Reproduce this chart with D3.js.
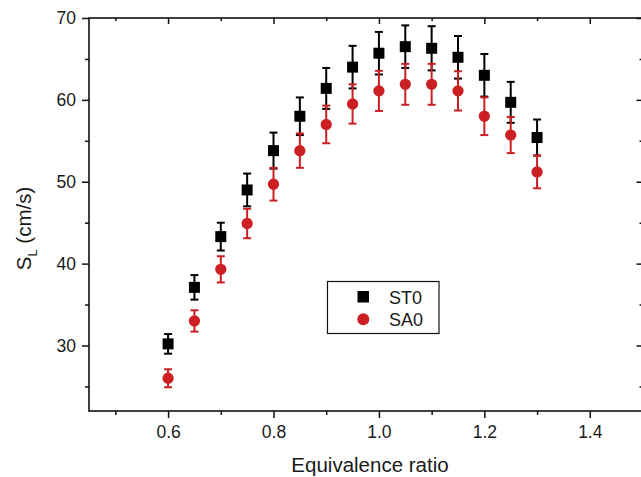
<!DOCTYPE html>
<html>
<head>
<meta charset="utf-8">
<script src="https://cdn.jsdelivr.net/npm/d3@7"></script>
<style>
  body { margin: 0; background: #fff; }
  text { font-family: "Liberation Sans", Arial, sans-serif; fill: #1a1a1a; }
</style>
</head>
<body>
<svg id="chart" width="641" height="477"></svg>
<script>
// equivalence ratio
const phi = [0.6, 0.65, 0.7, 0.75, 0.8, 0.85, 0.9, 0.95, 1.0, 1.05, 1.1, 1.15, 1.2, 1.25, 1.3]
// laminar burning velocity, cm/s
const st0 = [30.2, 37.1, 43.3, 49.0, 53.8, 58.0, 61.4, 64.0, 65.7, 66.5, 66.3, 65.2, 63.0, 59.7, 55.4]
const st0Err = [1.2, 1.5, 1.7, 2.0, 2.2, 2.3, 2.5, 2.6, 2.6, 2.6, 2.7, 2.6, 2.6, 2.5, 2.2]
const sa0 = [26.0, 33.0, 39.3, 44.9, 49.7, 53.8, 57.0, 59.5, 61.1, 61.9, 61.9, 61.1, 58.0, 55.7, 51.2]
const sa0Err = [1.1, 1.3, 1.6, 1.8, 2.0, 2.1, 2.3, 2.4, 2.45, 2.5, 2.5, 2.4, 2.3, 2.2, 2.0]

const xTicks = [0.6, 0.8, 1.0, 1.2, 1.4]
const xMinor = [0.5, 0.7, 0.9, 1.1, 1.3, 1.5]
const yTicks = [30, 40, 50, 60, 70]
const yMinor = [25, 35, 45, 55, 65]

const padL = 89, padT = 18, padR = 642.5, padB = 411

let svg = d3.select("#chart")

let x = d3.scaleLinear().domain([0.45, 1.5]).range([padL, padR])
let y = d3.scaleLinear().domain([22, 70]).range([padB, padT])

// frame
svg.append("rect")
  .attr("x", padL).attr("y", padT)
  .attr("width", padR - padL).attr("height", padB - padT)
  .attr("fill", "none").attr("stroke", "#111").attr("stroke-width", 1.6)

let fmtX = d3.format(".1f")

// bottom axis, ticks out
let bx = svg.append("g").attr("transform", `translate(0,${padB})`)
  .call(d3.axisBottom(x).tickValues(xTicks).tickFormat(fmtX).tickSize(7).tickPadding(8))
let bxm = svg.append("g").attr("transform", `translate(0,${padB})`)
  .call(d3.axisBottom(x).tickValues(xMinor).tickFormat("").tickSize(4))
// top axis, ticks in
let tx = svg.append("g").attr("transform", `translate(0,${padT})`)
  .call(d3.axisBottom(x).tickValues(xTicks).tickFormat("").tickSize(6))
let txm = svg.append("g").attr("transform", `translate(0,${padT})`)
  .call(d3.axisBottom(x).tickValues(xMinor).tickFormat("").tickSize(3))

// left axis, ticks out
let ly = svg.append("g").attr("transform", `translate(${padL},0)`)
  .call(d3.axisLeft(y).tickValues(yTicks).tickSize(7).tickPadding(6))
let lym = svg.append("g").attr("transform", `translate(${padL},0)`)
  .call(d3.axisLeft(y).tickValues(yMinor).tickFormat("").tickSize(4))
// right axis, ticks in
let ry = svg.append("g").attr("transform", `translate(${padR},0)`)
  .call(d3.axisLeft(y).tickValues(yTicks).tickFormat("").tickSize(6))
let rym = svg.append("g").attr("transform", `translate(${padR},0)`)
  .call(d3.axisLeft(y).tickValues(yMinor).tickFormat("").tickSize(3))

;[bx, bxm, tx, txm, ly, lym, ry, rym].forEach(g => {
  g.select(".domain").remove()
  g.selectAll(".tick line").attr("stroke", "#111").attr("stroke-width", 1.5)
  g.selectAll(".tick text").attr("font-size", 17.5).attr("fill", "#1a1a1a")
    .style("font-family", "'Liberation Sans', Arial, sans-serif")
})

// axis titles
svg.append("text")
  .attr("x", (padL + 641) / 2 + 5).attr("y", 472)
  .attr("text-anchor", "middle").attr("font-size", 20.5)
  .text("Equivalence ratio")

let yt = svg.append("text")
  .attr("transform", `translate(31,${(padT + padB) / 2 + 14}) rotate(-90)`)
  .attr("text-anchor", "middle").attr("font-size", 20.5)
yt.append("tspan").text("S")
yt.append("tspan").attr("font-size", 13).attr("dy", 6).text("L")
yt.append("tspan").attr("dy", -6).text(" (cm/s)")

function drawSeries (vals, errs, colour, shape) {
  let g = svg.append("g")
  let pts = phi.map((p, i) => ({p, v: vals[i], e: errs[i]}))
  let cap = 4
  pts.forEach(d => {
    let cx = x(d.p)
    g.append("line").attr("x1", cx).attr("x2", cx)
      .attr("y1", y(d.v + d.e)).attr("y2", y(d.v - d.e))
      .attr("stroke", colour).attr("stroke-width", 2)
    ;[d.v + d.e, d.v - d.e].forEach(ev => {
      g.append("line").attr("x1", cx - cap).attr("x2", cx + cap)
        .attr("y1", y(ev)).attr("y2", y(ev))
        .attr("stroke", colour).attr("stroke-width", 2)
    })
  })
  g.selectAll(".m").data(pts).enter()
    .append("path")
    .attr("transform", d => `translate(${x(d.p)},${y(d.v)})`)
    .attr("d", shape === "square" ? "M-5.5,-5.5H5.5V5.5H-5.5Z" : d3.symbol(d3.symbolCircle, 100)())
    .attr("fill", colour)
}

drawSeries(st0, st0Err, "#000", "square")
drawSeries(sa0, sa0Err, "#cc1f24", "circle")

// legend
let lg = svg.append("g")
lg.append("rect").attr("x", 327.5).attr("y", 281.5).attr("width", 111.5).attr("height", 52)
  .attr("fill", "#fff").attr("stroke", "#111").attr("stroke-width", 1.2)
lg.append("path").attr("d", "M357.5,291H369V302.5H357.5Z").attr("fill", "#000")
lg.append("circle").attr("cx", 363.3).attr("cy", 319.3).attr("r", 6).attr("fill", "#cc1f24")
lg.append("text").attr("x", 389).attr("y", 303.5).attr("font-size", 18).text("ST0")
lg.append("text").attr("x", 389).attr("y", 326).attr("font-size", 18).text("SA0")
</script>
</body>
</html>
